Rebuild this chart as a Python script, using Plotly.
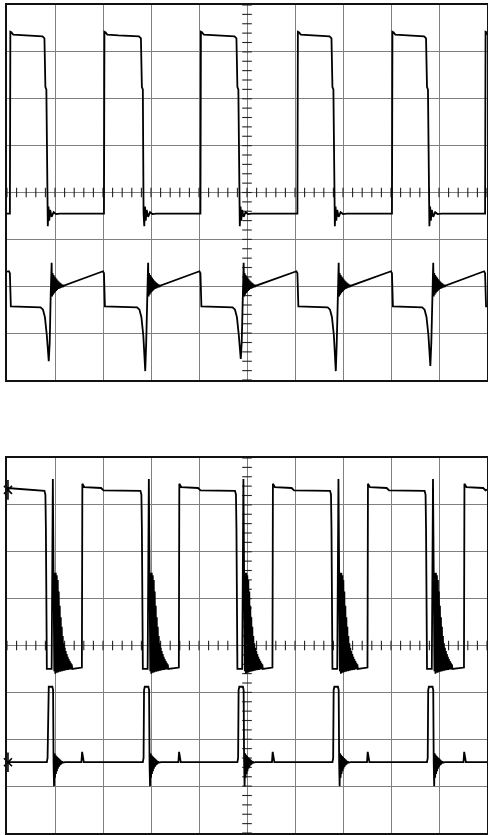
import plotly.graph_objects as go

# ---------------- graticule (divisions) ----------------
X_DIVS = 10
Y_DIVS = 8
MINOR = 0.2          # minor tick spacing on the centre lines

# ---------------- TOP SCREEN ----------------
# channel 1 : square wave (edge times in divisions)
CH1_RISE = [0.06, 2.02, 4.03, 6.05, 8.02, 9.96]
CH1_FALL = [0.80, 2.81, 4.80, 6.78, 8.75]
CH1_AT_RISE = [(0.0, -0.45), (0.01, 3.43), (0.03, 3.42), (0.07, 3.37), (0.30, 3.35)]
CH1_AT_FALL = [(-0.06, 3.33), (-0.02, 3.29), (0.0, 2.25), (0.02, 2.20), (0.035, -0.45),
               (0.05, -0.72), (0.065, -0.30), (0.08, -0.60), (0.10, -0.37), (0.13, -0.52),
               (0.17, -0.42), (0.22, -0.46), (0.30, -0.45)]
CH1_START, CH1_END = -0.45, 3.36

# channel 2 : spike + ringing + ramp
CH2_AT_RISE = [(-0.02, -1.68), (0.0, -1.72), (0.02, -2.43)]
CH2_SPIKE_MIN = [-3.60, -3.81, -3.55, -3.81, -3.70]
CH2_PRE_SPIKE = [(-0.10, -2.45), (-0.05, -2.50), (-0.01, -2.66), (0.03, -3.05)]
CH2_POST_SPIKE = [(0.09, -3.20), (0.11, -2.20), (0.13, -1.50)]
CH2_RING_DOWN = [-2.22, -2.18, -2.15, -2.12, -2.10, -2.08, -2.06, -2.05, -2.04, -2.03, -2.02, -2.01]
CH2_RING_UP = [-1.72, -1.76, -1.79, -1.82, -1.85, -1.88, -1.90, -1.92, -1.94, -1.96, -1.97, -1.99]
CH2_START, CH2_END = -1.69, -2.43

# ---------------- BOTTOM SCREEN ----------------
# channel 3 : square wave with large ringing after the falling edge
CH3_FALL = [0.81, 2.81, 4.78, 6.76, 8.73]
CH3_RISE = [1.56, 3.58, 5.53, 7.51, 9.52]
CH3_AT_RISE = [(0.0, -0.47), (0.01, 3.45), (0.05, 3.38), (0.40, 3.36), (0.45, 3.31)]
CH3_AT_FALL = [(-0.03, 3.30), (-0.01, 3.22), (0.0, 2.50), (0.02, -0.50), (0.12, -0.50),
               (0.145, 3.55), (0.16, 1.20), (0.175, -0.55)]
CH3_RING_UP = [1.55, 1.55, 1.50, 1.40, 1.15, 0.85, 0.60, 0.40, 0.20, 0.05, -0.05, -0.12,
               -0.18, -0.24, -0.29, -0.33, -0.37, -0.40]
CH3_RING_DOWN = [-0.60, -0.58, -0.58, -0.57, -0.56, -0.56, -0.55, -0.55, -0.54, -0.54, -0.53,
                 -0.53, -0.52, -0.52, -0.51, -0.51, -0.50, -0.50]
CH3_START, CH3_END = 3.36, 3.33

# channel 4 : narrow pulse at each ch3 falling edge, small bump at each rising edge
CH4_AT_FALL = [(0.02, -2.49), (0.035, -2.40), (0.045, -0.95), (0.06, -0.88), (0.135, -0.88),
               (0.15, -0.95), (0.16, -2.50), (0.17, -3.00)]
CH4_RING_UP = [-2.30, -2.33, -2.36, -2.38, -2.40, -2.42, -2.44, -2.46, -2.47]
CH4_RING_DOWN = [-2.82, -2.74, -2.68, -2.63, -2.59, -2.56, -2.54, -2.52, -2.50]
CH4_AT_RISE = [(-0.01, -2.49), (0.005, -2.27), (0.02, -2.42), (0.04, -2.49)]
CH4_BASE = -2.49

# ground-reference markers on the bottom screen
MARK_Y = [3.32, -2.49]


def ring(t0, step, first, second):
    out = []
    for i, (a, b) in enumerate(zip(first, second)):
        out.append((t0 + 2 * i * step, a))
        out.append((t0 + (2 * i + 1) * step, b))
    return out


def build(start_v, end_v, events):
    xs, ys = [0.0], [start_v]
    for t, shape in sorted(events, key=lambda e: e[0]):
        for dt, v in shape:
            x = t + dt
            if 0 <= x <= X_DIVS:
                xs.append(x)
                ys.append(v)
    xs.append(float(X_DIVS))
    ys.append(end_v)
    return xs, ys


# --- assemble traces
ev1 = [(t, CH1_AT_RISE) for t in CH1_RISE] + [(t, CH1_AT_FALL) for t in CH1_FALL]
x1, y1 = build(CH1_START, CH1_END, ev1)

ev2 = [(t, CH2_AT_RISE) for t in CH1_RISE]
for t, m in zip(CH1_FALL, CH2_SPIKE_MIN):
    shape = CH2_PRE_SPIKE + [(0.07, m)] + CH2_POST_SPIKE + ring(0.14, 0.0105, CH2_RING_DOWN, CH2_RING_UP)
    ev2.append((t, shape))
x2, y2 = build(CH2_START, CH2_END, ev2)

ev3 = [(t, CH3_AT_RISE) for t in CH3_RISE]
for t in CH3_FALL:
    ev3.append((t, CH3_AT_FALL + ring(0.185, 0.0104, CH3_RING_UP, CH3_RING_DOWN)))
x3, y3 = build(CH3_START, CH3_END, ev3)

ev4 = [(t, CH4_AT_RISE) for t in CH3_RISE]
for t in CH3_FALL:
    ev4.append((t, CH4_AT_FALL + ring(0.18, 0.01, CH4_RING_UP, CH4_RING_DOWN) + [(0.40, CH4_BASE)]))
x4, y4 = build(CH4_BASE, CH4_BASE, ev4)


def centre_ticks():
    tx, ty = [], []
    n = int(round(X_DIVS / MINOR))
    for k in range(n + 1):
        x = k * MINOR
        tx += [x, x, None]
        ty += [-0.10, 0.10, None]
    m = int(round(Y_DIVS / MINOR))
    for k in range(m + 1):
        y = -Y_DIVS / 2 + k * MINOR
        tx += [X_DIVS / 2 - 0.10, X_DIVS / 2 + 0.10, None]
        ty += [y, y, None]
    return tx, ty


TRACE_STYLE = dict(color="black", width=1.8)
fig = go.Figure()
tx, ty = centre_ticks()
for xa, ya in (("x", "y"), ("x2", "y2")):
    fig.add_trace(go.Scatter(x=tx, y=ty, mode="lines", line=dict(color="#222", width=1.1),
                             xaxis=xa, yaxis=ya, hoverinfo="skip", showlegend=False))

fig.add_trace(go.Scatter(x=x1, y=y1, mode="lines", line=TRACE_STYLE, xaxis="x", yaxis="y", showlegend=False))
fig.add_trace(go.Scatter(x=x2, y=y2, mode="lines", line=TRACE_STYLE, xaxis="x", yaxis="y", showlegend=False))
fig.add_trace(go.Scatter(x=x3, y=y3, mode="lines", line=TRACE_STYLE, xaxis="x2", yaxis="y2", showlegend=False))
fig.add_trace(go.Scatter(x=x4, y=y4, mode="lines", line=TRACE_STYLE, xaxis="x2", yaxis="y2", showlegend=False))

fig.add_trace(go.Scatter(x=[0.02] * len(MARK_Y), y=MARK_Y, mode="markers", cliponaxis=False,
                         marker=dict(symbol="x-thin-open", size=8, color="black",
                                     line=dict(color="black", width=1.6)),
                         xaxis="x2", yaxis="y2", showlegend=False))
fig.add_trace(go.Scatter(x=[0.02] * len(MARK_Y), y=MARK_Y, mode="markers", cliponaxis=False,
                         marker=dict(symbol="line-ns-open", size=14, color="black",
                                     line=dict(color="black", width=1.6)),
                         xaxis="x2", yaxis="y2", showlegend=False))

W, H = 488, 835
xdom = [7 / W, 1 - 1 / W]
ax_common = dict(showgrid=True, gridcolor="#808080", gridwidth=1, showline=True, linecolor="#111",
                 linewidth=1.5, mirror=True, showticklabels=False, ticks="", zeroline=False,
                 fixedrange=True)
fig.update_layout(
    width=W, height=H, margin=dict(l=0, r=0, t=0, b=0),
    paper_bgcolor="white", plot_bgcolor="white",
    xaxis=dict(domain=xdom, range=[0, X_DIVS], dtick=1, tick0=0, anchor="y", **ax_common),
    yaxis=dict(domain=[1 - 380 / H, 1 - 5 / H], range=[-Y_DIVS / 2, Y_DIVS / 2], dtick=1, tick0=0,
               anchor="x", **ax_common),
    xaxis2=dict(domain=xdom, range=[0, X_DIVS], dtick=1, tick0=0, anchor="y2", **ax_common),
    yaxis2=dict(domain=[1 - 833 / H, 1 - 458 / H], range=[-Y_DIVS / 2, Y_DIVS / 2], dtick=1, tick0=0,
                anchor="x2", **ax_common),
)

fig.write_html("out.html", config={"displayModeBar": False},
               post_script="document.body.style.margin='0px';document.body.style.overflow='hidden';")
